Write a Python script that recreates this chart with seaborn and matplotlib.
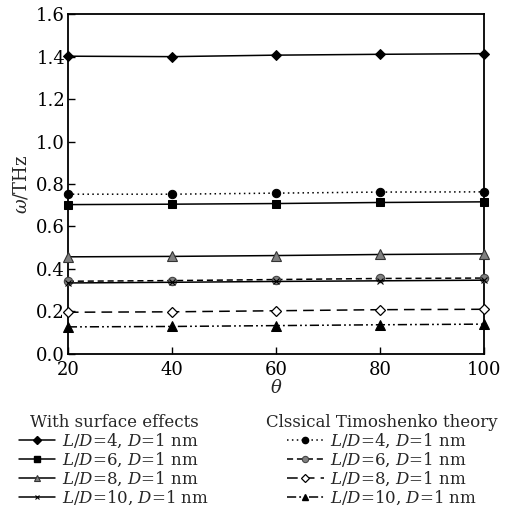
import matplotlib
matplotlib.use("Agg")
import matplotlib.pyplot as plt
import seaborn as sns
import pandas as pd
from matplotlib.lines import Line2D

theta = [20, 40, 60, 80, 100]

# With surface effects
surf_ld4 = [1.402, 1.400, 1.407, 1.411, 1.414]
surf_ld6 = [0.703, 0.705, 0.708, 0.713, 0.716]
surf_ld8 = [0.457, 0.459, 0.463, 0.468, 0.471]
surf_ld10 = [0.334, 0.337, 0.341, 0.344, 0.347]

# Classical Timoshenko theory
clas_ld4 = [0.752, 0.752, 0.757, 0.762, 0.763]
clas_ld6 = [0.342, 0.345, 0.350, 0.355, 0.357]
clas_ld8 = [0.196, 0.198, 0.203, 0.208, 0.210]
clas_ld10 = [0.127, 0.129, 0.133, 0.137, 0.140]

labels = ["$\\it{L/D}$=4, $\\it{D}$=1 nm", "$\\it{L/D}$=6, $\\it{D}$=1 nm",
          "$\\it{L/D}$=8, $\\it{D}$=1 nm", "$\\it{L/D}$=10, $\\it{D}$=1 nm"]

sns.set_style("ticks")
plt.rcParams['font.family'] = ['DejaVu Serif']
plt.rcParams['mathtext.fontset'] = 'dejavuserif'

fig = plt.figure(figsize=(5.18, 5.25), dpi=100)
ax = fig.add_axes([0.131, 0.326, 0.803, 0.647])

gray = "#808080"
surf_specs = [
    (surf_ld4, dict(marker="D", markersize=5.5, color="black", mfc="black", mec="black", linestyle="-")),
    (surf_ld6, dict(marker="s", markersize=5.5, color="black", mfc="black", mec="black", linestyle="-")),
    (surf_ld8, dict(marker="^", markersize=6.5, color="black", mfc=gray, mec="#333333", mew=0.8, linestyle="-")),
    (surf_ld10, dict(marker="x", markersize=4, color="black", mec="black", mew=0.8, linestyle="-")),
]
clas_specs = [
    (clas_ld4, dict(marker="o", markersize=6, color="black", mfc="black", mec="black", linestyle=(0, (1, 2.2)))),
    (clas_ld6, dict(marker="o", markersize=6, color="black", mfc=gray, mec="#444444", mew=0.8, linestyle=(0, (4, 2.5)))),
    (clas_ld8, dict(marker="D", markersize=5.5, color="black", mfc="white", mec="black", mew=0.9, linestyle=(0, (7, 4)))),
    (clas_ld10, dict(marker="^", markersize=6.5, color="black", mfc="black", mec="black", linestyle=(0, (6, 2, 1.2, 2, 1.2, 2)))),
]

for vals, kw in clas_specs + surf_specs:
    df = pd.DataFrame({"theta": theta, "w": vals})
    sns.lineplot(data=df, x="theta", y="w", ax=ax, linewidth=1.1, legend=False,
                 clip_on=False, zorder=3, **kw)

ax.set_xlim(20, 100)
ax.set_ylim(0, 1.6)
ax.set_xticks([20, 40, 60, 80, 100])
ax.set_yticks([0, 0.2, 0.4, 0.6, 0.8, 1.0, 1.2, 1.4, 1.6])
ax.set_yticklabels(["0.0", "0.2", "0.4", "0.6", "0.8", "1.0", "1.2", "1.4", "1.6"])
ax.tick_params(direction="in", length=5, width=1, labelsize=13, colors="black")
ax.tick_params(axis="y", pad=2)
ax.tick_params(axis="x", pad=5)
for s in ax.spines.values():
    s.set_linewidth(1.3)
    s.set_color("black")
ax.set_xlabel("$\\theta$", fontsize=13, labelpad=0)
ax.set_ylabel("$\\omega$/THz", fontsize=13, labelpad=4)

def handles(specs):
    hs = []
    for _, kw in specs:
        k = dict(kw)
        k["markersize"] = k["markersize"] * 0.75
        hs.append(Line2D([], [], linewidth=1.1, **k))
    return hs

leg1 = fig.legend(handles(surf_specs), labels, title="With surface effects",
                  loc="upper left", bbox_to_anchor=(0.02, 0.228), frameon=False,
                  fontsize=12, title_fontsize=12, handlelength=2.2, handletextpad=0.4,
                  labelspacing=0.05, borderpad=0, alignment="center")
leg2 = fig.legend(handles(clas_specs), labels, title="Clssical Timoshenko theory",
                  loc="upper left", bbox_to_anchor=(0.498, 0.228), frameon=False,
                  fontsize=12, title_fontsize=12, handlelength=2.2, handletextpad=0.4,
                  labelspacing=0.05, borderpad=0, alignment="center")

fig.savefig("out.png", dpi=100)
